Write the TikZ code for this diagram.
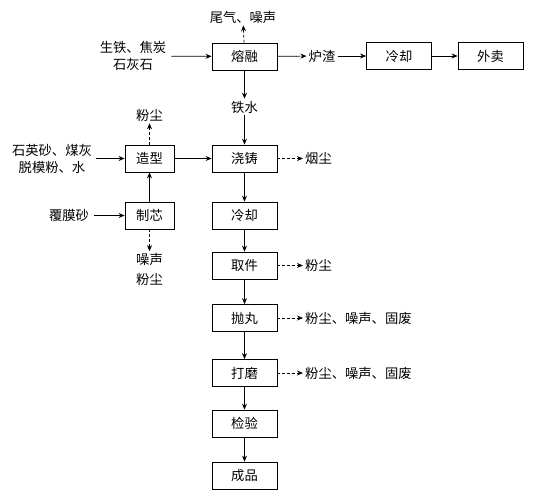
\documentclass[tikz,border=0pt]{standalone}
\usepackage{fontspec}
\setmainfont{Noto Sans CJK SC}
\usetikzlibrary{arrows.meta}
\begin{document}
\begin{tikzpicture}[x=1pt,y=-1pt,
  font=\fontsize{13.3}{17}\selectfont,
  box/.style={draw, line width=0.8pt, minimum width=65pt, minimum height=27pt, inner sep=0pt},
  sbox/.style={box, minimum width=49pt},
  lbl/.style={inner sep=2pt, align=center},
  arr/.style={-{Stealth[length=6pt,width=5pt]}, line width=0.7pt},
  darr/.style={arr, dash pattern=on 3pt off 2pt}]
\useasboundingbox (0,0) rectangle (539,493);
% main column
\node[box] (melt) at (244.5,56.5) {熔融};
\node[box] (cast) at (244.5,158.5) {浇铸};
\node[box] (cool) at (244.5,215.5) {冷却};
\node[box] (take) at (244.5,265.5) {取件};
\node[box] (shot) at (244.5,318) {抛丸};
\node[box] (grind) at (244.5,373) {打磨};
\node[box] (check) at (244.5,423.5) {检验};
\node[box] (prod) at (244.5,475.5) {成品};
% top right
\node[box] (cool2) at (399,56) {冷却};
\node[box] (sell) at (490.5,56) {外卖};
\node[lbl] (slag) at (322,56) {炉渣};
% left column
\node[sbox] (mold) at (149.5,158.5) {造型};
\node[sbox] (core) at (149.5,215.5) {制芯};
% labels
\node[lbl] (exh) at (243,17) {尾气、噪声};
\node[lbl, inner xsep=5pt] (raw) at (133,56) {生铁、焦炭\\石灰石};
\node[lbl] (iron) at (244.5,107) {铁水};
\node[lbl] (dust1) at (149.5,115) {粉尘};
\node[lbl, inner xsep=4pt] (sand) at (52,158.5) {石英砂、煤灰\\脱模粉、水};
\node[lbl, inner xsep=5pt] (film) at (69,215.5) {覆膜砂};
\node[lbl, font=\fontsize{13.3}{20}\selectfont] (noise1) at (149.5,269.5) {噪声\\粉尘};
\node[lbl, anchor=west] (smoke) at (303,158.5) {烟尘};
\node[lbl, anchor=west] (dust2) at (303,265.5) {粉尘};
\node[lbl, anchor=west] (waste1) at (303,318) {粉尘、噪声、固废};
\node[lbl, anchor=west] (waste2) at (303,373) {粉尘、噪声、固废};
% connectors
\draw[arr] (raw) -- (melt);
\draw[darr] (melt) -- (exh);
\draw[arr] (melt) -- (slag);
\draw[arr] (slag) -- (cool2);
\draw[arr] (cool2) -- (sell);
\draw[arr] (melt) -- (iron);
\draw[arr] (iron) -- (cast);
\draw[arr] (cast) -- (cool);
\draw[arr] (cool) -- (take);
\draw[arr] (take) -- (shot);
\draw[arr] (shot) -- (grind);
\draw[arr] (grind) -- (check);
\draw[arr] (check) -- (prod);
\draw[arr] (sand) -- (mold);
\draw[arr] (film) -- (core);
\draw[arr] (core) -- (mold);
\draw[arr] (mold) -- (cast);
\draw[darr] (mold) -- (dust1);
\draw[darr] (core) -- (noise1);
\draw[darr] (cast) -- (smoke);
\draw[darr] (take) -- (dust2);
\draw[darr] (shot) -- (waste1);
\draw[darr] (grind) -- (waste2);
\end{tikzpicture}
\end{document}
